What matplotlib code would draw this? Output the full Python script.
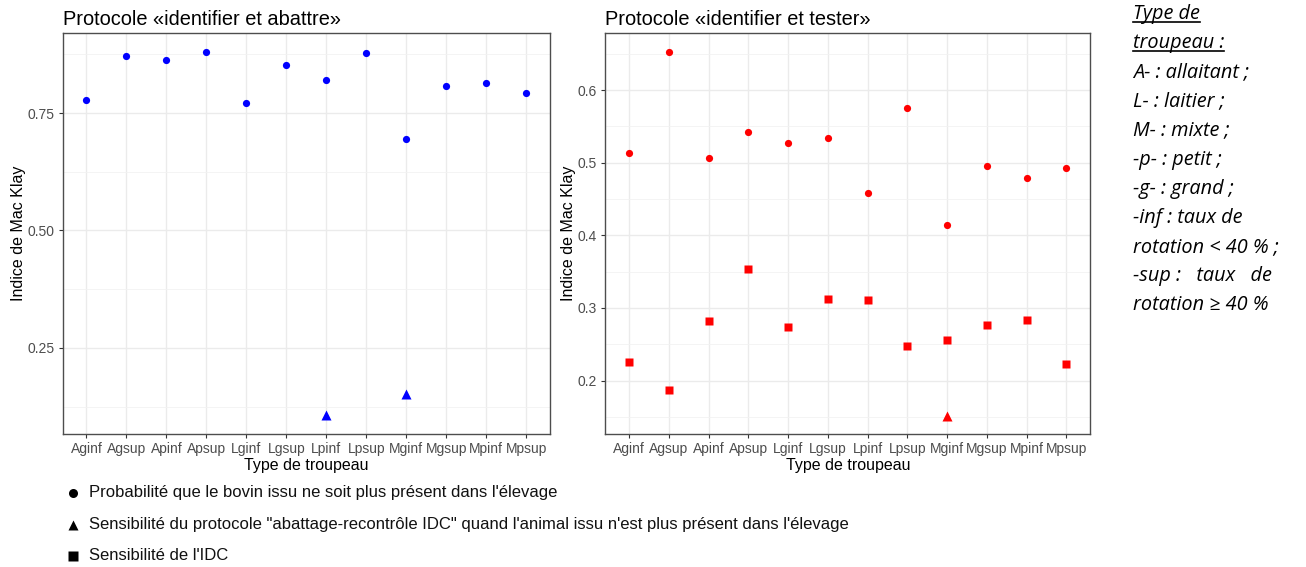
import matplotlib.pyplot as plt
from matplotlib.lines import Line2D
from matplotlib.ticker import MultipleLocator

# categories (herd types)
types = ['Aginf', 'Agsup', 'Apinf', 'Apsup', 'Lginf', 'Lgsup',
         'Lpinf', 'Lpsup', 'Mginf', 'Mgsup', 'Mpinf', 'Mpsup']

# left panel: protocole "identifier et abattre"
abattre_proba = [0.778, 0.871, 0.863, 0.881, 0.771, 0.852,
                 0.821, 0.877, 0.695, 0.807, 0.814, 0.793]
abattre_sens_types = ['Lpinf', 'Mginf']
abattre_sens = [0.107, 0.152]

# right panel: protocole "identifier et tester"
tester_proba = [0.514, 0.653, 0.507, 0.542, 0.527, 0.534,
                0.458, 0.576, 0.414, 0.496, 0.479, 0.493]
tester_idc = [0.226, 0.187, 0.282, 0.354, 0.274, 0.312,
              0.311, 0.247, 0.256, 0.277, 0.283, 0.223]
tester_sens_types = ['Mginf']
tester_sens = [0.1515]

legend_labels = [
    "Probabilité que le bovin issu ne soit plus présent dans l'élevage",
    "Sensibilité du protocole \"abattage-recontrôle IDC\" quand l'animal issu n'est plus présent dans l'élevage",
    "Sensibilité de l'IDC",
]
legend_markers = ['o', '^', 's']

note_lines = ['Type de', 'troupeau :', 'A- : allaitant ;', 'L- : laitier ;',
              'M- : mixte ;', '-p- : petit ;', '-g- : grand ;',
              '-inf : taux de', 'rotation < 40 % ;', '-sup :   taux   de',
              'rotation ≥ 40 %']

plt.rcParams['font.family'] = ['Liberation Sans', 'DejaVu Sans']

W, H = 1306, 567
fig = plt.figure(figsize=(W / 100, H / 100), dpi=100)

ax1 = fig.add_axes([62.5 / W, 1 - 434 / H, (550.3 - 62.5) / W, (434 - 33) / H])
ax2 = fig.add_axes([605.3 / W, 1 - 434 / H, (1090.3 - 605.3) / W, (434 - 33) / H])

pos = {t: i for i, t in enumerate(types)}
x = list(range(len(types)))


def style(ax, title, major, minor):
    ax.set_xlim(-0.6, len(types) - 0.4)
    ax.set_xticks(x)
    ax.set_xticklabels(types)
    ax.yaxis.set_major_locator(MultipleLocator(major))
    ax.yaxis.set_minor_locator(MultipleLocator(minor))
    ax.grid(True, which='major', color='#ebebeb', linewidth=1.0)
    ax.grid(True, which='minor', axis='y', color='#f2f2f2', linewidth=0.6)
    ax.set_axisbelow(True)
    for s in ax.spines.values():
        s.set_color('#4d4d4d')
        s.set_linewidth(1.0)
    ax.tick_params(which='major', length=3, width=0.8, color='#333333',
                   labelcolor='#4d4d4d', labelsize=10, pad=3)
    ax.tick_params(which='minor', length=0)
    ax.set_xlabel('Type de troupeau', fontsize=11.5, labelpad=1)
    ax.set_ylabel('Indice de Mac Klay', fontsize=11.5, labelpad=1)
    ax.set_title(title, loc='left', fontsize=14.4, pad=6)


ax1.plot(x, abattre_proba, 'o', color='blue', ms=5.2, mec='none')
ax1.plot([pos[t] for t in abattre_sens_types], abattre_sens, '^',
         color='blue', ms=6.5, mec='none')
ax1.set_ylim(0.0666, 0.9206)
style(ax1, 'Protocole «identifier et abattre»', 0.25, 0.125)
ax1.yaxis.set_major_formatter(plt.FormatStrFormatter('%.2f'))

ax2.plot(x, tester_proba, 'o', color='red', ms=5.2, mec='none')
ax2.plot(x, tester_idc, 's', color='red', ms=6, mec='none')
ax2.plot([pos[t] for t in tester_sens_types], tester_sens, '^',
         color='red', ms=6.5, mec='none')
ax2.set_ylim(0.1264, 0.6788)
style(ax2, 'Protocole «identifier et tester»', 0.1, 0.05)
ax2.yaxis.set_major_formatter(plt.FormatStrFormatter('%.1f'))

# bottom legend (black markers), placed row by row
row_y = [493, 524.5, 556]
for m, lab, yy in zip(legend_markers, legend_labels, row_y):
    fig.add_artist(Line2D([73 / W], [1 - yy / H], ls='none', marker=m,
                          color='black', ms=7 if m == '^' else 6.5, mec='none',
                          transform=fig.transFigure))
    fig.text(89 / W, 1 - yy / H, lab, fontsize=12, va='center', ha='left',
             color='#111111')

# herd-type note on the right
texts = []
for i, line in enumerate(note_lines):
    t = fig.text(1133 / W, 1 - (19 + 29.1 * i) / H, line, fontsize=14.3,
                 style='italic', family=['Open Sans', 'DejaVu Sans'],
                 va='baseline', ha='left')
    texts.append(t)

fig.canvas.draw()
r = fig.canvas.get_renderer()
for t in texts[:2]:
    bb = t.get_window_extent(renderer=r)
    yb = bb.y0 + 2
    fig.add_artist(Line2D([bb.x0 / W, bb.x1 / W], [yb / H, yb / H],
                          color='black', lw=1.2, transform=fig.transFigure))

fig.savefig('out.png', dpi=100)
